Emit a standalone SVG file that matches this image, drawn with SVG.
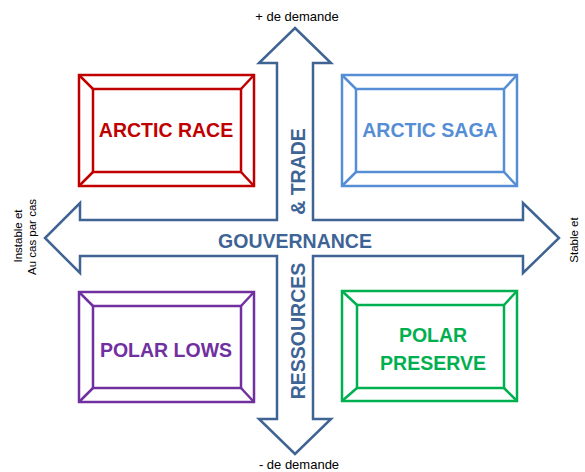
<svg xmlns="http://www.w3.org/2000/svg" width="585" height="472" viewBox="0 0 585 472">
<style>
.box rect, .box line { fill: none; stroke-width: 2.5; }
.title { font-family: "Liberation Sans", Arial, sans-serif; font-weight: bold; font-size: 19.5px; text-anchor: middle; }
.axis { font-family: "Liberation Sans", Arial, sans-serif; font-weight: bold; font-size: 19.5px; fill: #3e6496; text-anchor: middle; }
.lbl { font-family: "Liberation Sans", Arial, sans-serif; font-size: 13px; fill: #000; text-anchor: middle; }
.side { font-family: "Liberation Sans", Arial, sans-serif; font-size: 11.5px; fill: #000; text-anchor: middle; }
</style>
<rect width="585" height="472" fill="#ffffff"/>
<g id="connectors">
<path d="M295,28 L331,63 L313,63 L313,220 L523,220 L523,203 L559,238 L523,273 L523,256 L313,256 L313,419 L331,419 L295,454 L259,419 L277,419 L277,256 L80,256 L80,273 L45,238 L80,203 L80,220 L277,220 L277,63 L259,63 Z" fill="#ffffff" stroke="#3f6392" stroke-width="2.5" stroke-linejoin="miter"/>
<text class="axis" x="295" y="248">GOUVERNANCE</text>
<text class="axis" transform="translate(305,171.5) rotate(-90)">&amp; TRADE</text>
<text class="axis" transform="translate(305,331) rotate(-90)">RESSOURCES</text>
<text class="lbl" x="297" y="21">+ de demande</text>
<text class="lbl" x="299" y="469">- de demande</text>
<text class="side" transform="translate(22,236) rotate(-90)">Instable et</text>
<text class="side" transform="translate(36,237) rotate(-90)">Au cas par cas</text>
<text class="side" transform="translate(578,240) rotate(-90)">Stable et</text>
</g>
<g id="arctic-race" class="box" stroke="#c00000">
<rect x="79" y="75" width="175" height="111"/>
<rect x="93" y="89" width="148" height="83"/>
<line x1="79" y1="75" x2="93" y2="89"/>
<line x1="254" y1="75" x2="241" y2="89"/>
<line x1="79" y1="186" x2="93" y2="172"/>
<line x1="254" y1="186" x2="241" y2="172"/>
<text class="title" x="166" y="137" fill="#c00000" stroke="none">ARCTIC RACE</text>
</g>
<g id="arctic-saga" class="box" stroke="#558ed5">
<rect x="342" y="75" width="175" height="111"/>
<rect x="356" y="89" width="148" height="83"/>
<line x1="342" y1="75" x2="356" y2="89"/>
<line x1="517" y1="75" x2="504" y2="89"/>
<line x1="342" y1="186" x2="356" y2="172"/>
<line x1="517" y1="186" x2="504" y2="172"/>
<text class="title" x="430" y="137" fill="#558ed5" stroke="none">ARCTIC SAGA</text>
</g>
<g id="polar-lows" class="box" stroke="#7030a0">
<rect x="79" y="292" width="175" height="110"/>
<rect x="93" y="306" width="148" height="82"/>
<line x1="79" y1="292" x2="93" y2="306"/>
<line x1="254" y1="292" x2="241" y2="306"/>
<line x1="79" y1="402" x2="93" y2="388"/>
<line x1="254" y1="402" x2="241" y2="388"/>
<text class="title" x="166" y="357" fill="#7030a0" stroke="none">POLAR LOWS</text>
</g>
<g id="polar-preserve" class="box" stroke="#00b050">
<rect x="342" y="291" width="175" height="110"/>
<rect x="357" y="305" width="147" height="83"/>
<line x1="342" y1="291" x2="357" y2="305"/>
<line x1="517" y1="291" x2="504" y2="305"/>
<line x1="342" y1="401" x2="357" y2="388"/>
<line x1="517" y1="401" x2="504" y2="388"/>
<text class="title" x="433" y="342" fill="#00b050" stroke="none">POLAR</text>
<text class="title" x="433" y="370" fill="#00b050" stroke="none">PRESERVE</text>
</g>
</svg>
